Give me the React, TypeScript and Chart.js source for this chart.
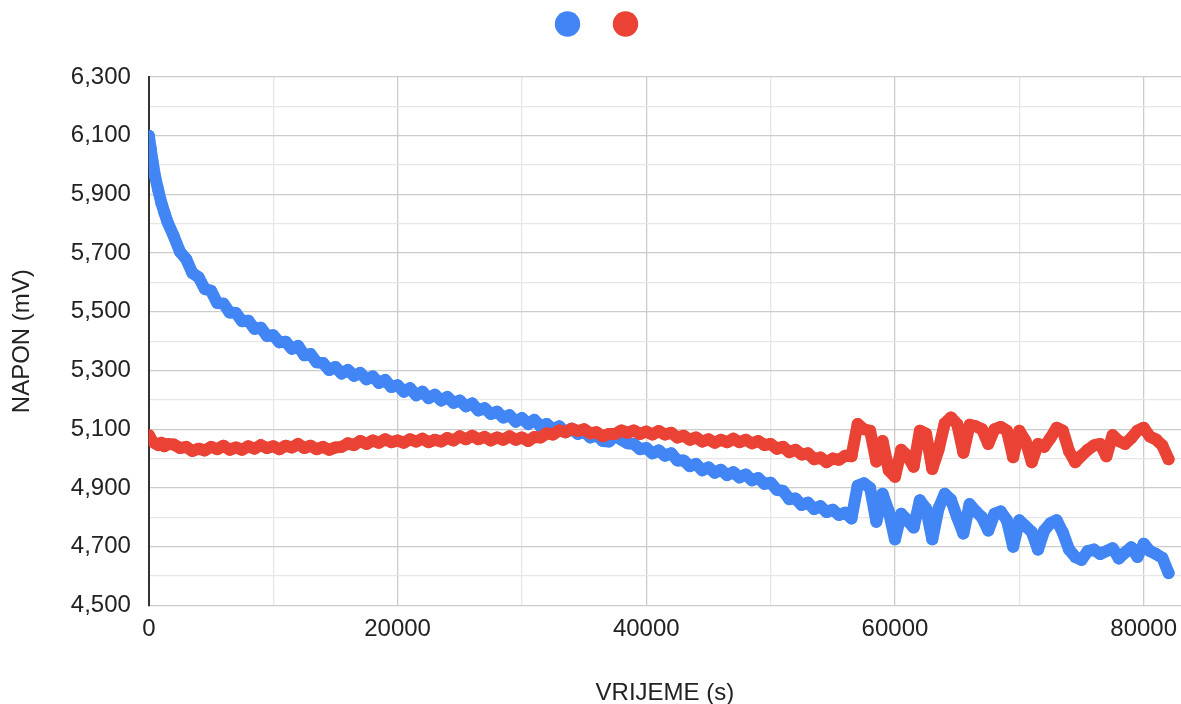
import React, { useEffect, useRef } from 'react';
import { Chart, registerables } from 'chart.js';

Chart.register(...registerables);

// Sample times (s)
const TIME = [
  0, 150, 300, 500, 750, 1000, 1250, 1500,
  2000, 2500, 3000, 3500, 4000, 4500, 5000, 5500, 6000, 6500,
  7000, 7500, 8000, 8500, 9000, 9500, 10000, 10500, 11000, 11500,
  12000, 12500, 13000, 13500, 14000, 14500, 15000, 15500, 16000, 16500,
  17000, 17500, 18000, 18500, 19000, 19500, 20000, 20500, 21000, 21500,
  22000, 22500, 23000, 23500, 24000, 24500, 25000, 25500, 26000, 26500,
  27000, 27500, 28000, 28500, 29000, 29500, 30000, 30500, 31000, 31500,
  32000, 32500, 33000, 33500, 34000, 34500, 35000, 35500, 36000, 36500,
  37000, 37500, 38000, 38500, 39000, 39500, 40000, 40500, 41000, 41500,
  42000, 42500, 43000, 43500, 44000, 44500, 45000, 45500, 46000, 46500,
  47000, 47500, 48000, 48500, 49000, 49500, 50000, 50500, 51000, 51500,
  52000, 52500, 53000, 53500, 54000, 54500, 55000, 55500, 56000, 56500,
  57000, 57500, 58000, 58500, 59000, 59500, 60000, 60500, 61000, 61500,
  62000, 62500, 63000, 63500, 64000, 64500, 65000, 65500, 66000, 66500,
  67000, 67500, 68000, 68500, 69000, 69500, 70000, 70500, 71000, 71500,
  72000, 72500, 73000, 73500, 74000, 74500, 75000, 75500, 76000, 76500,
  77000, 77500, 78000, 78500, 79000, 79500, 80000, 80500, 81000, 81500,
  82000,
];

// Blue series (mV)
const BLUE = [
  6100, 6055, 6012, 5962, 5915, 5872, 5838, 5806,
  5758, 5705, 5680, 5632, 5618, 5578, 5572, 5530, 5528, 5498,
  5496, 5468, 5470, 5442, 5446, 5418, 5420, 5396, 5398, 5374,
  5384, 5352, 5356, 5328, 5326, 5302, 5312, 5290, 5302, 5282,
  5292, 5270, 5280, 5258, 5268, 5244, 5250, 5228, 5240, 5216,
  5228, 5206, 5218, 5198, 5210, 5190, 5198, 5178, 5188, 5164,
  5172, 5152, 5160, 5140, 5148, 5126, 5138, 5118, 5132, 5110,
  5118, 5100, 5110, 5090, 5102, 5084, 5092, 5072, 5080, 5060,
  5058, 5078, 5064, 5052, 5050, 5032, 5036, 5018, 5028, 5010,
  5018, 4994, 4994, 4974, 4982, 4960, 4970, 4952, 4962, 4944,
  4954, 4936, 4946, 4926, 4934, 4914, 4918, 4894, 4890, 4862,
  4864, 4842, 4850, 4828, 4838, 4818, 4826, 4808, 4816, 4796,
  4908, 4916, 4900, 4785, 4880, 4820, 4725, 4812, 4790, 4765,
  4858, 4830, 4725, 4830, 4880, 4860, 4800, 4745, 4845, 4820,
  4800, 4755, 4812, 4820, 4790, 4700, 4790, 4770, 4750, 4690,
  4755, 4780, 4790, 4748, 4690, 4665, 4655, 4685, 4690, 4675,
  4685, 4695, 4660, 4680, 4698, 4665, 4710, 4685, 4675, 4662,
  4610,
];

// Red series (mV)
const RED = [
  5080, 5068, 5058, 5052, 5046, 5054, 5042, 5050,
  5048, 5036, 5040, 5026, 5034, 5028, 5040, 5032, 5044, 5030,
  5038, 5030, 5042, 5034, 5046, 5036, 5042, 5032, 5044, 5038,
  5050, 5036, 5044, 5032, 5040, 5030, 5038, 5040, 5052, 5046,
  5060, 5050, 5062, 5054, 5066, 5056, 5062, 5054, 5066, 5058,
  5068, 5056, 5064, 5058, 5070, 5062, 5076, 5066, 5078, 5066,
  5074, 5062, 5072, 5064, 5076, 5064, 5072, 5060, 5074, 5072,
  5086, 5082, 5096, 5090, 5102, 5094, 5100, 5086, 5090, 5076,
  5084, 5084, 5096, 5088, 5096, 5084, 5092, 5082, 5094, 5082,
  5088, 5072, 5078, 5064, 5072, 5058, 5066, 5054, 5064, 5056,
  5068, 5056, 5064, 5052, 5060, 5046, 5050, 5034, 5040, 5022,
  5030, 5014, 5018, 4998, 5004, 4988, 5000, 4996, 5010, 5008,
  5118, 5100, 5095, 4990, 5060, 4960, 4938, 5030, 5010, 4972,
  5095, 5085, 4965, 5030, 5120, 5140, 5118, 5020, 5115, 5110,
  5100, 5050, 5100, 5108, 5095, 5005, 5095, 5060, 4988, 5050,
  5040, 5070, 5105, 5095, 5025, 4988, 5010, 5030, 5045, 5050,
  5008, 5080, 5060, 5050, 5070, 5095, 5105, 5075, 5065, 5045,
  4998,
];

// Axis gridline positions and labelled ticks
const X_GRID = [0, 10000, 20000, 30000, 40000, 50000, 60000, 70000, 80000];
const X_LABELS = [0, 20000, 40000, 60000, 80000];
const Y_GRID = [4500, 4600, 4700, 4800, 4900, 5000, 5100, 5200, 5300, 5400, 5500, 5600, 5700, 5800, 5900, 6000, 6100, 6200, 6300];
const Y_LABELS = [4500, 4700, 4900, 5100, 5300, 5500, 5700, 5900, 6100, 6300];

const BLUE_COLOR = '#4285F4';
const RED_COLOR = '#EA4335';
const FONT = '"Liberation Sans", Arial, Helvetica, sans-serif';
const MAJOR = '#cccccc';
const MINOR = '#e6e6e6';

const legendSpacer = {
  id: 'legendSpacer',
  beforeInit(chart: any) {
    const legend = chart.legend;
    if (!legend || legend._patched) return;
    const origFit = legend.fit;
    legend.fit = function () {
      origFit.call(this);
      this.height += 34;
      if (this.lineWidths) this.lineWidths = this.lineWidths.map((w: number) => w - 41);
    };
    legend._patched = true;
  },
};

export default function App() {
  const ref = useRef<HTMLCanvasElement | null>(null);

  useEffect(() => {
    if (!ref.current) return;
    Chart.defaults.font.family = FONT;
    const blueData = TIME.map((t, i) => ({ x: t, y: BLUE[i] }));
    const redData = TIME.map((t, i) => ({ x: t, y: RED[i] }));
    const mk = (data: any[], color: string, order: number) => ({
      label: '    ',
      data,
      order,
      showLine: true,
      borderColor: color,
      backgroundColor: color,
      borderWidth: 12,
      borderJoinStyle: 'round',
      borderCapStyle: 'round',
      pointRadius: 6,
      pointBorderWidth: 0,
      pointBackgroundColor: color,
      pointHoverRadius: 6,
      fill: false,
      tension: 0,
    });
    const chart = new Chart(ref.current, {
      type: 'scatter',
      data: {
        datasets: [mk(blueData, BLUE_COLOR, 1), mk(redData, RED_COLOR, 0)],
      },
      plugins: [legendSpacer],
      options: {
        animation: false,
        responsive: true,
        maintainAspectRatio: false,
        layout: { autoPadding: false, padding: { top: 4, left: 0, right: 0, bottom: 0 } },
        plugins: {
          legend: {
            display: true,
            position: 'top',
            labels: {
              usePointStyle: true,
              boxWidth: 18,
              boxHeight: 18,
              padding: 11,
              font: { size: 18, family: FONT },
              sort: (a: any, b: any) => a.datasetIndex - b.datasetIndex,
            },
          },
          tooltip: { enabled: false },
        },
        scales: {
          x: {
            type: 'linear',
            min: 0,
            max: 83000,
            afterBuildTicks: (s: any) => {
              s.ticks = X_GRID.map((v) => ({ value: v }));
            },
            afterFit: (s: any) => {
              s.paddingRight = 0;
            },
            ticks: {
              autoSkip: false,
              maxRotation: 0,
              minRotation: 0,
              padding: 10,
              color: '#222',
              font: { size: 24, family: FONT },
              callback: (v: any) => (X_LABELS.includes(Number(v)) ? String(v) : ''),
            },
            grid: {
              drawTicks: false,
              lineWidth: 1.3,
              color: (ctx: any) => (ctx.tick && X_LABELS.includes(ctx.tick.value) ? MAJOR : MINOR),
            },
            border: { display: false },
            title: {
              display: true,
              text: 'VRIJEME (s)',
              color: '#222',
              font: { size: 24, family: FONT },
              padding: { top: 25, bottom: -4 },
            },
          },
          y: {
            type: 'linear',
            min: 4500,
            max: 6300,
            afterBuildTicks: (s: any) => {
              s.ticks = Y_GRID.map((v) => ({ value: v }));
            },
            ticks: {
              autoSkip: false,
              padding: 18,
              color: '#222',
              font: { size: 24, family: FONT },
              callback: (v: any) => (Y_LABELS.includes(Number(v)) ? Number(v).toLocaleString('en-US') : ''),
            },
            grid: {
              drawTicks: false,
              lineWidth: 1.3,
              color: (ctx: any) => (ctx.tick && Y_LABELS.includes(ctx.tick.value) ? MAJOR : MINOR),
            },
            border: { display: true, color: '#333333', width: 2 },
            title: {
              display: true,
              text: 'NAPON (mV)',
              color: '#222',
              font: { size: 24, family: FONT },
              padding: { top: 8, bottom: 16 },
            },
          },
        },
      } as any,
    } as any);
    return () => chart.destroy();
  }, []);

  return (
    <div style={{ position: 'absolute', left: 0, top: 0, width: 1181, height: 704, background: '#fff', overflow: 'hidden' }}>
      <canvas ref={ref} />
    </div>
  );
}
